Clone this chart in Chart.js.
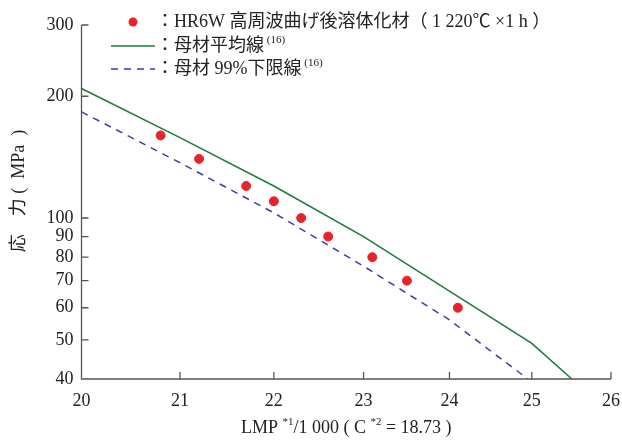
<!DOCTYPE html>
<html lang="ja">
<head>
<meta charset="UTF-8">
<title>応力 - LMP</title>
<script src="https://cdn.jsdelivr.net/npm/chart.js@4.4.0/dist/chart.umd.min.js"></script>
<style>
  html, body { margin: 0; padding: 0; background: #fff; }
</style>
</head>
<body>
<canvas id="chart" width="622" height="442"></canvas>
<script>
// tick labels
const xTicks = [20, 21, 22, 23, 24, 25, 26];
const yTicks = [40, 50, 60, 70, 80, 90, 100, 200, 300];

// HR6W test points (LMP/1000, MPa)
const testLmp = [20.8, 21.2, 21.7, 22.0, 22.3, 22.6, 23.1, 23.5, 24.1];
const testStress = [160, 140, 120, 110, 100, 90, 80, 70, 60];

// base metal average line
const avgLmp = [20, 21, 22, 23, 24, 25, 25.5];
const avgStress = [209, 158, 120, 90, 66, 49, 40];

// base metal 99% lower limit
const lowLmp = [20, 21, 22, 23, 24, 24.95];
const lowStress = [183, 137, 103, 76, 56, 40];

const SERIF = "'Liberation Serif', 'Noto Sans CJK JP', serif";
const RED = "#e8242b";
const GREEN = "#1b7a3e";
const BLUE = "#3b3f9e";
const AXIS = "#555";

function pairs(xs, ys) {
  return xs.map((x, i) => ({ x: x, y: ys[i] }));
}

// draws text pieces, some of them as superscripts
function drawRuns(ctx, runs, x, y, size, align) {
  const supSize = Math.round(size * 0.62);
  let total = 0;
  runs.forEach(r => {
    ctx.font = (r[1] ? supSize : size) + "px " + SERIF;
    total += ctx.measureText(r[0]).width;
  });
  let cx = align === "center" ? x - total / 2 : x;
  ctx.textAlign = "left";
  ctx.textBaseline = "middle";
  runs.forEach(r => {
    ctx.font = (r[1] ? supSize : size) + "px " + SERIF;
    ctx.fillText(r[0], cx, r[1] ? y - size * 0.35 : y);
    cx += ctx.measureText(r[0]).width;
  });
}

const decor = {
  id: "decor",
  beforeDatasetsDraw(chart) {
    const { ctx, chartArea: a, scales: { x, y } } = chart;
    ctx.save();
    ctx.strokeStyle = AXIS;
    ctx.lineWidth = 1.3;
    ctx.beginPath();
    ctx.moveTo(a.left, a.top);
    ctx.lineTo(a.left, a.bottom);
    ctx.lineTo(a.right, a.bottom);
    yTicks.forEach(v => {
      const p = y.getPixelForValue(v);
      ctx.moveTo(a.left, p);
      ctx.lineTo(a.left + 7, p);
    });
    xTicks.forEach(v => {
      const p = x.getPixelForValue(v);
      ctx.moveTo(p, a.bottom);
      ctx.lineTo(p, a.bottom - 7);
    });
    ctx.stroke();
    ctx.restore();
  },
  afterDraw(chart) {
    const { ctx, chartArea: a } = chart;
    ctx.save();

    // legend
    ctx.fillStyle = RED;
    ctx.beginPath();
    ctx.arc(133, 22, 4.5, 0, Math.PI * 2);
    ctx.fill();

    ctx.lineWidth = 1.5;
    ctx.strokeStyle = GREEN;
    ctx.beginPath();
    ctx.moveTo(111, 46);
    ctx.lineTo(155, 46);
    ctx.stroke();

    ctx.strokeStyle = BLUE;
    ctx.setLineDash([7, 6]);
    ctx.beginPath();
    ctx.moveTo(111, 69);
    ctx.lineTo(155, 69);
    ctx.stroke();
    ctx.setLineDash([]);

    ctx.fillStyle = "#222";
    drawRuns(ctx, [["：HR6W 高周波曲げ後溶体化材（ 1 220℃ ×1 h ）", false]], 156, 22, 18, "left");
    drawRuns(ctx, [["：母材平均線", false], [" (16)", true]], 156, 46, 18, "left");
    drawRuns(ctx, [["：母材 99%下限線", false], [" (16)", true]], 156, 69, 18, "left");

    // x axis title
    drawRuns(ctx, [["LMP ", false], ["*1", true], ["/1 000 ( C ", false], ["*2", true], [" = 18.73 )", false]],
      (a.left + a.right) / 2, 428, 18, "center");

    // y axis title
    ctx.translate(19, 191);
    ctx.rotate(-Math.PI / 2);
    drawRuns(ctx, [["応　力 (  MPa  )", false]], 0, 0, 18, "center");
    ctx.restore();
  }
};

new Chart(document.getElementById("chart"), {
  type: "scatter",
  data: {
    datasets: [
      {
        label: "HR6W",
        data: pairs(testLmp, testStress),
        backgroundColor: RED,
        borderColor: RED,
        pointRadius: 4.5,
        showLine: false
      },
      {
        label: "avg",
        data: pairs(avgLmp, avgStress),
        borderColor: GREEN,
        borderWidth: 1.5,
        pointRadius: 0,
        showLine: true
      },
      {
        label: "low",
        data: pairs(lowLmp, lowStress),
        borderColor: BLUE,
        borderWidth: 1.5,
        borderDash: [7, 6],
        pointRadius: 0,
        showLine: true
      }
    ]
  },
  options: {
    responsive: false,
    animation: false,
    layout: { padding: { left: 0, top: 25, right: 11, bottom: 0 } },
    plugins: { legend: { display: false }, tooltip: { enabled: false } },
    scales: {
      x: {
        type: "logarithmic",
        min: 20,
        max: 26,
        afterBuildTicks: s => { s.ticks = xTicks.map(v => ({ value: v })); },
        afterFit: s => { s.height = 63; s.paddingRight = 0; s.paddingLeft = 0; },
        grid: { display: false, drawTicks: false },
        border: { display: false },
        ticks: {
          callback: v => String(v),
          color: "#222",
          padding: 11,
          maxRotation: 0,
          font: { family: SERIF, size: 18 }
        }
      },
      y: {
        type: "logarithmic",
        min: 40,
        max: 300,
        afterBuildTicks: s => { s.ticks = yTicks.map(v => ({ value: v })); },
        afterFit: s => { s.width = 81.5; s.paddingTop = 0; s.paddingBottom = 0; },
        grid: { display: false, drawTicks: false },
        border: { display: false },
        ticks: {
          callback: v => String(v),
          color: "#222",
          padding: 8,
          font: { family: SERIF, size: 18 }
        }
      }
    }
  },
  plugins: [decor]
});
</script>
</body>
</html>
